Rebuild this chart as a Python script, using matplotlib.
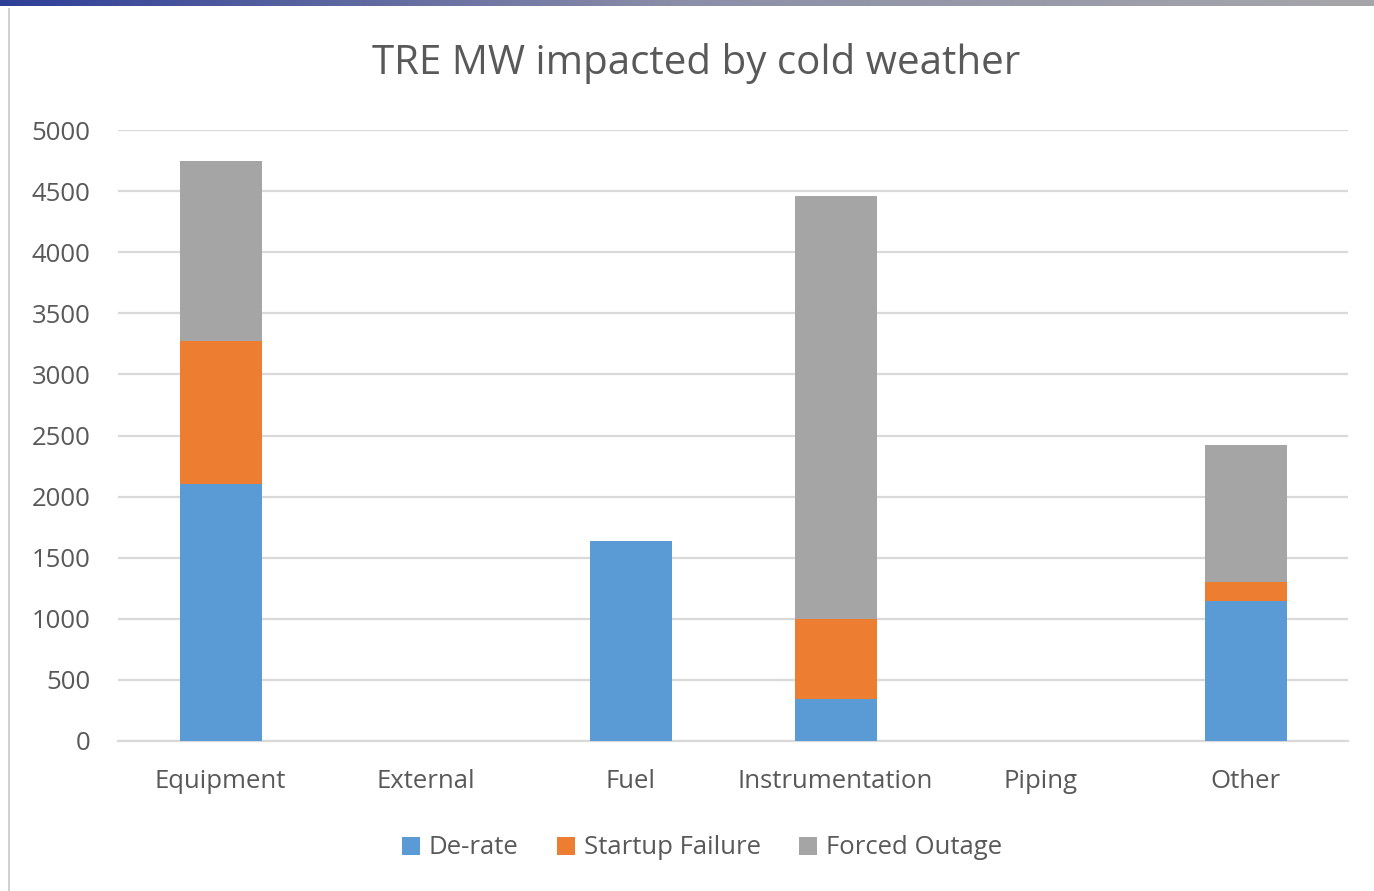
import numpy as np
import matplotlib.pyplot as plt
from matplotlib.patches import Rectangle
from matplotlib.colors import LinearSegmentedColormap

categories = ["Equipment", "External", "Fuel", "Instrumentation", "Piping", "Other"]
derate = [2100, 0, 1640, 345, 0, 1145]
startup_failure = [1170, 0, 0, 655, 0, 155]
forced_outage = [1475, 0, 0, 3460, 0, 1120]
yticks = [0, 500, 1000, 1500, 2000, 2500, 3000, 3500, 4000, 4500, 5000]

BLUE = "#5B9BD5"
ORANGE = "#ED7D31"
GREY = "#A5A5A5"
TXT = "#595959"

plt.rcParams["font.family"] = ["Open Sans", "DejaVu Sans"]

fig = plt.figure(figsize=(13.74, 8.91), dpi=100)

# top gradient band and left border
band = fig.add_axes([0, 1 - 6 / 891, 1, 6 / 891])
grad = np.linspace(0, 1, 256)[None, :]
cmap = LinearSegmentedColormap.from_list("band", ["#2E3F98", "#8C8FA8", "#A6A6AA"])
band.imshow(grad, aspect="auto", cmap=cmap)
band.axis("off")
fig.add_artist(Rectangle((8 / 1374, 0), 1.5 / 1374, 1 - 8 / 891,
                         transform=fig.transFigure, color="#D0D0D0", lw=0))

ax = fig.add_axes([118 / 1374, 1 - 741 / 891, 1230 / 1374, 611 / 891])
x = np.arange(len(categories))
w = 0.4
b1 = np.array(derate)
b2 = b1 + np.array(startup_failure)
ax.bar(x, derate, w, color=BLUE, label="De-rate", zorder=3)
ax.bar(x, startup_failure, w, bottom=b1, color=ORANGE, label="Startup Failure", zorder=3)
ax.bar(x, forced_outage, w, bottom=b2, color=GREY, label="Forced Outage", zorder=3)

ax.set_xlim(-0.5, len(categories) - 0.5)
ax.set_ylim(0, 5000)
ax.set_yticks(yticks)
ax.set_xticks(x)
ax.set_xticklabels(categories)
ax.grid(axis="y", color="#D9D9D9", linewidth=1.6, zorder=0)
for s in ["top", "right", "left"]:
    ax.spines[s].set_visible(False)
ax.spines["bottom"].set_color("#D9D9D9")
ax.spines["bottom"].set_linewidth(1.6)
ax.tick_params(axis="both", length=0, labelsize=18.5, colors=TXT)
ax.tick_params(axis="x", pad=20)
ax.tick_params(axis="y", pad=20)

fig.text(0.507, 1 - 63 / 891, "TRE MW impacted by cold weather", ha="center", va="center",
         fontsize=29, color=TXT)

leg = fig.legend(loc="center", bbox_to_anchor=(702 / 1374, 1 - 848 / 891), ncol=3,
                 frameon=False, fontsize=18.5, handlelength=0.7, handleheight=0.7,
                 handletextpad=0.35, columnspacing=1.5)
for t in leg.get_texts():
    t.set_color(TXT)

fig.savefig("out.png", dpi=100)
